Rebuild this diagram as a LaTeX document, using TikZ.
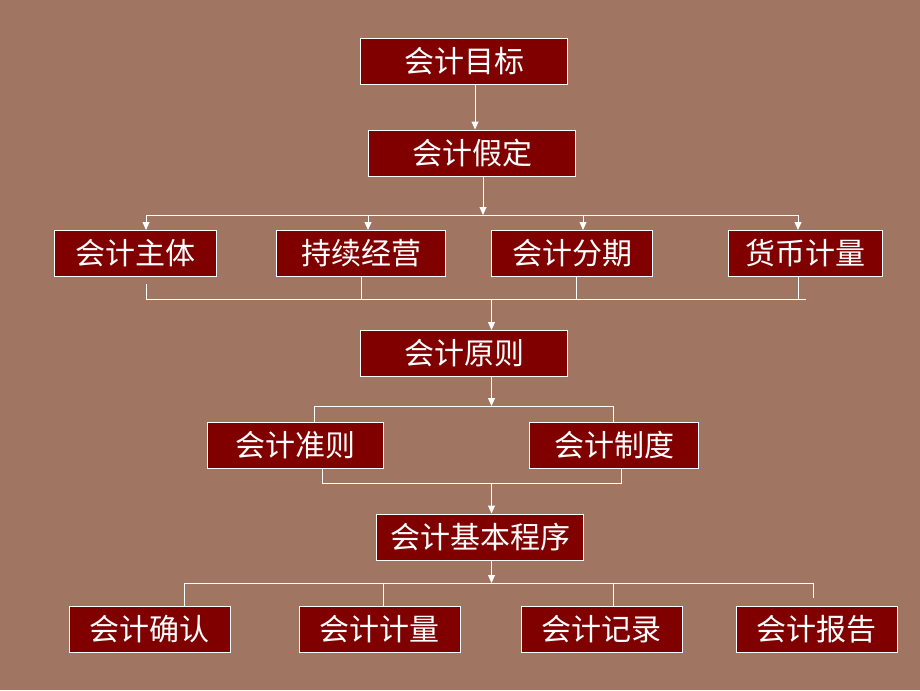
\documentclass[tikz,border=0pt]{standalone}
\usepackage{fontspec}
\newfontfamily\cjk{Noto Sans CJK SC}
\usetikzlibrary{arrows.meta}

\definecolor{bgbrown}{RGB}{160,118,99}
\definecolor{boxred}{RGB}{128,0,0}

\tikzset{
    box/.style={draw=white, line width=0.75pt, fill=boxred, text=white,
        minimum height=34.5pt, inner sep=0pt,
        font=\cjk\fontsize{22.5}{25}\selectfont},
    link/.style={draw=white, line width=0.75pt},
    arr/.style={link, -{Triangle[length=6pt,width=5.2pt]}}
}

\begin{document}
\begin{tikzpicture}[x=0.75pt, y=-0.75pt]

        \fill[bgbrown] (0,0) rectangle (920,690);
        \useasboundingbox (0,0) rectangle (920,690);

        % Nodes

        \node[box, minimum width=155.25pt] (mubiao) at (464,61.5) {会计目标};
        \node[box, minimum width=155.25pt] (jiading) at (472,153) {会计假定};
        \node[box, minimum width=121.5pt] (zhuti) at (135,253.5) {会计主体};
        \node[box, minimum width=126.75pt] (jingying) at (361,253.5) {持续经营};
        \node[box, minimum width=120.75pt] (fenqi) at (572,253.5) {会计分期};
        \node[box, minimum width=115.5pt] (huobi) at (805.5,253.5) {货币计量};
        \node[box, minimum width=155.25pt] (yuanze) at (464,353.5) {会计原则};
        \node[box, minimum width=132pt] (zhunze) at (295,445) {会计准则};
        \node[box, minimum width=126.75pt] (zhidu) at (614,445) {会计制度};
        \node[box, minimum width=155.25pt] (chengxu) at (480,537) {会计基本程序};
        \node[box, minimum width=120.75pt] (queren) at (149.5,629) {会计确认};
        \node[box, minimum width=120.75pt] (jiliang) at (379.5,629) {会计计量};
        \node[box, minimum width=120.75pt] (jilu) at (601.5,629) {会计记录};
        \node[box, minimum width=120.75pt] (baogao) at (816.5,629) {会计报告};

        % Junctions

        \coordinate (t0) at (475,107);
        \coordinate (s0) at (483,215);
        \coordinate (s1) at (146,215);
        \coordinate (s2) at (368,215);
        \coordinate (s3) at (583,215);
        \coordinate (s4) at (798,215);
        \coordinate (m0) at (491.5,299);
        \coordinate (m1) at (146,299);
        \coordinate (m2) at (361,299);
        \coordinate (m3) at (576,299);
        \coordinate (m4) at (798,299);
        \coordinate (m5) at (806,299);
        \coordinate (p0) at (491.5,406);
        \coordinate (p1) at (314,406);
        \coordinate (p2) at (613,406);
        \coordinate (q0) at (491.5,483);
        \coordinate (q1) at (322,483);
        \coordinate (q2) at (621,483);
        \coordinate (r0) at (491.5,583);
        \coordinate (r1) at (184,583);
        \coordinate (r2) at (383.5,583);
        \coordinate (r3) at (613.5,583);
        \coordinate (r4) at (813.5,583);

        % Edges

        \draw[arr] (mubiao.south -| t0) -- (jiading.north -| t0);

        \draw[arr] (jiading.south -| s0) -- (s0);
        \draw[link] (s1) -- (s4);
        \draw[arr] (s1) -- (zhuti.north -| s1);
        \draw[arr] (s2) -- (jingying.north -| s2);
        \draw[arr] (s3) -- (fenqi.north -| s3);
        \draw[arr] (s4) -- (huobi.north -| s4);

        \draw[link] (m1) -- (m5);
        \draw[link] (m1) -- ++(0,-15);
        \draw[link] (jingying.south -| m2) -- (m2);
        \draw[link] (fenqi.south -| m3) -- (m3);
        \draw[link] (huobi.south -| m4) -- (m4);
        \draw[arr] (m0) -- (yuanze.north -| m0);

        \draw[arr] (yuanze.south -| p0) -- (p0);
        \draw[link] (zhunze.north -| p1) -- (p1) -- (p2) -- (zhidu.north -| p2);

        \draw[link] (zhunze.south -| q1) -- (q1) -- (q2) -- (zhidu.south -| q2);
        \draw[arr] (q0) -- (chengxu.north -| q0);

        \draw[arr] (chengxu.south -| r0) -- (r0);
        \draw[link] (queren.north -| r1) -- (r1) -- (r4) -- ++(0,15);
        \draw[link] (r2) -- (jiliang.north -| r2);
        \draw[link] (r3) -- (jilu.north -| r3);

\end{tikzpicture}
\end{document}
